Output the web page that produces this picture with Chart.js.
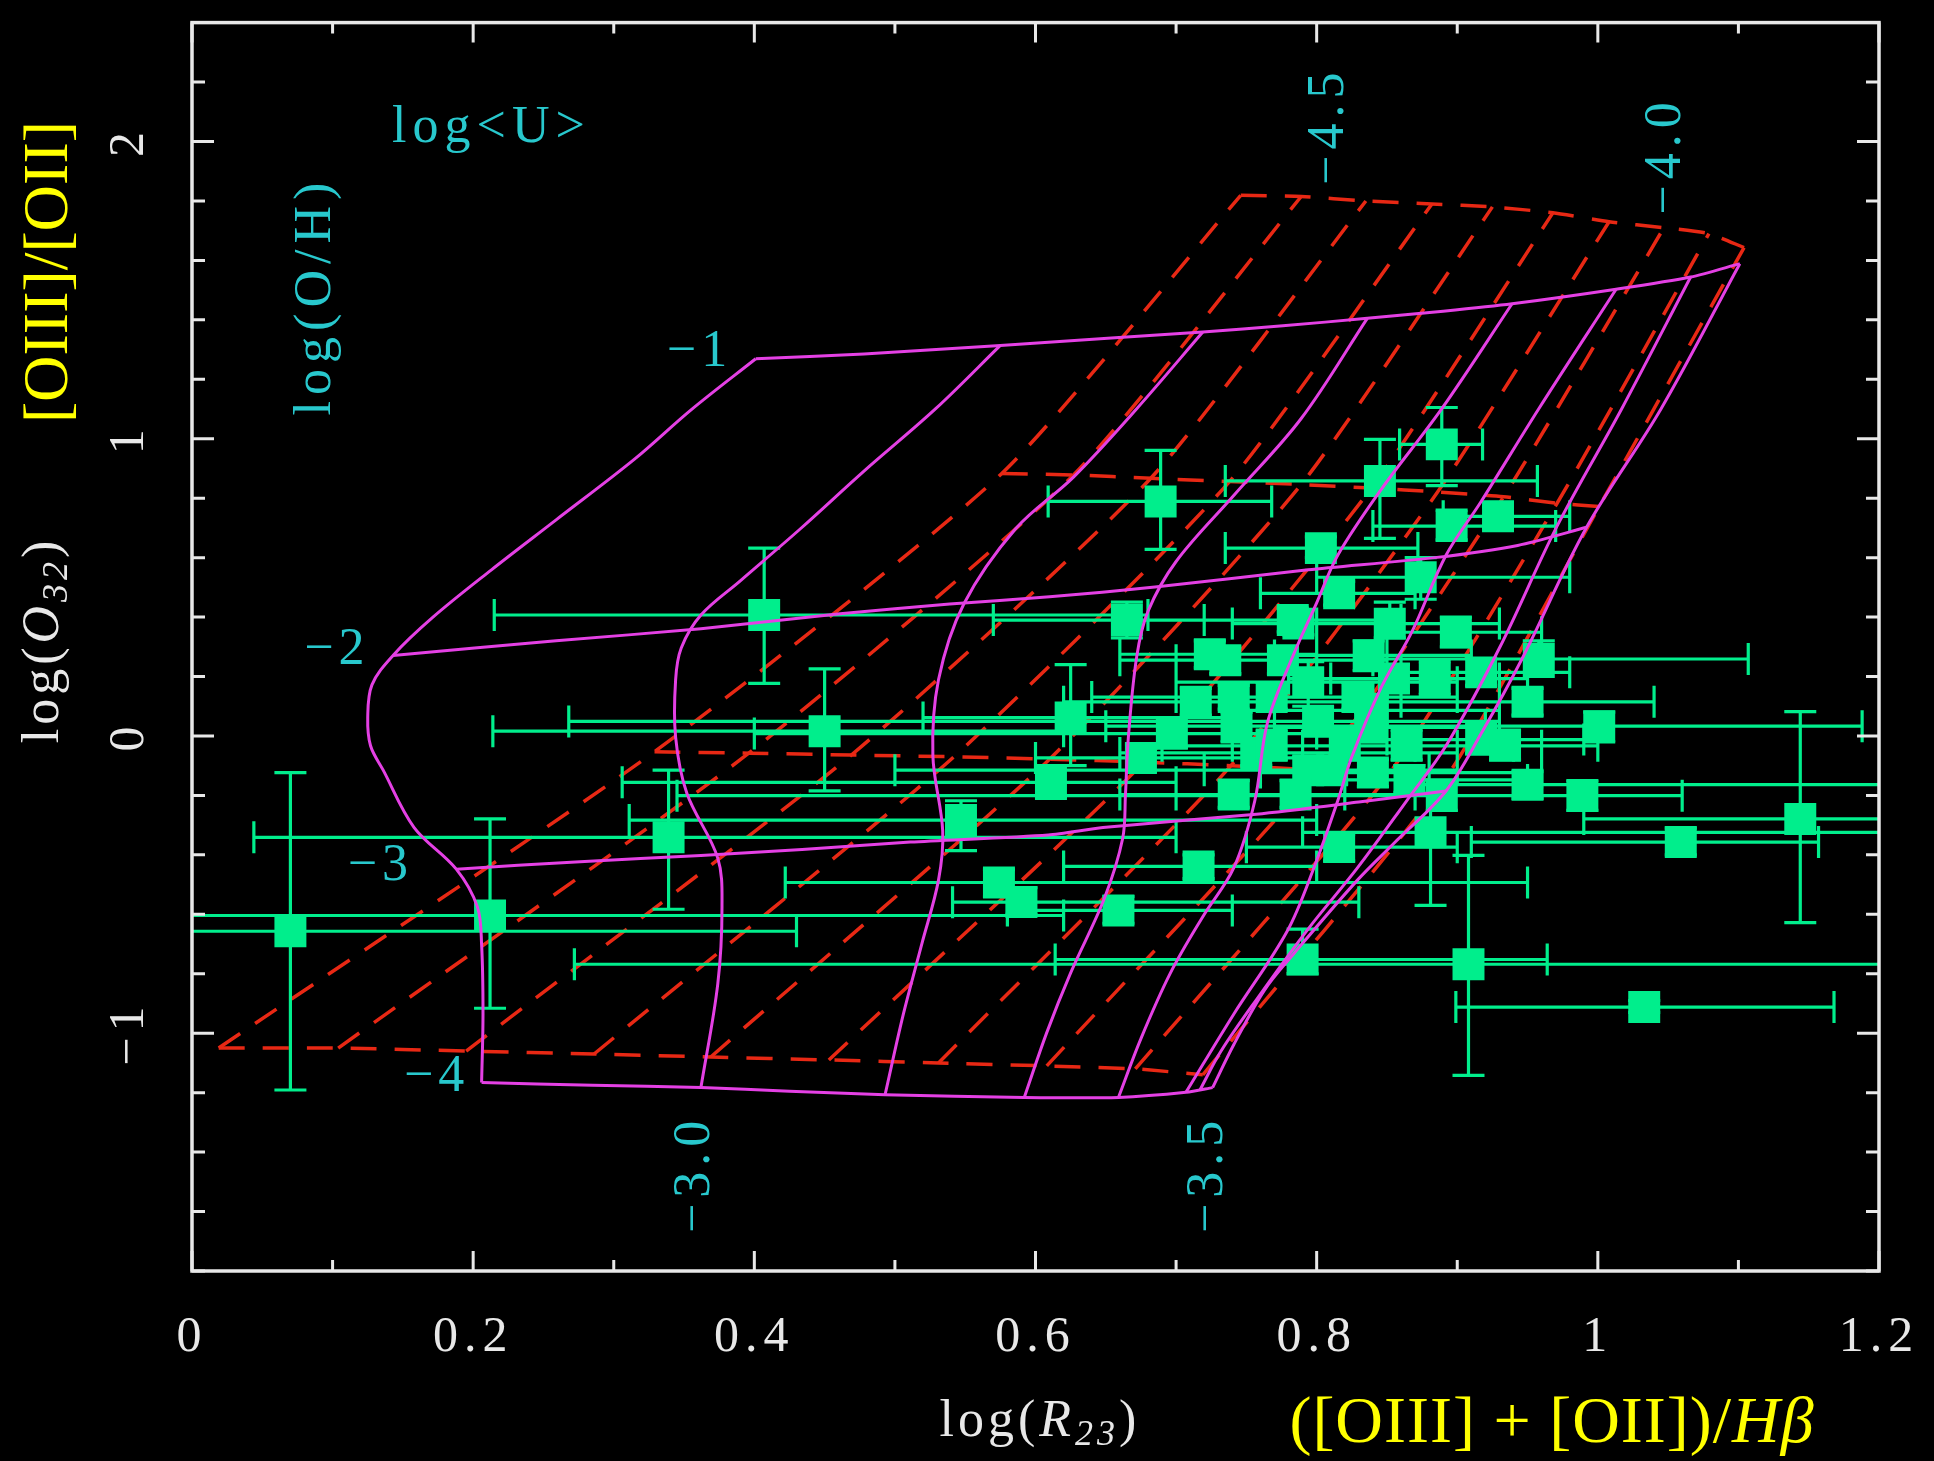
<html><head>
<meta charset="utf-8">
<title>O32 vs R23</title>
<script src="https://cdn.jsdelivr.net/npm/chart.js"></script>
<style>
body { margin: 0; background: #000; }
canvas { display: block; }
</style>
</head>
<body>
<canvas id="diagram" width="1934" height="1461"></canvas>
<script>
// axis ticks
const xMajor = [0, 0.2, 0.4, 0.6, 0.8, 1, 1.2];
const xTickLabels = ['0', '0.2', '0.4', '0.6', '0.8', '1', '1.2'];
const xMinor = [0.1, 0.3, 0.5, 0.7, 0.9, 1.1];
const yMajor = [-1, 0, 1, 2];
const yTickLabels = ['\u22121', '0', '1', '2'];
const yMinor = [-1.8, -1.6, -1.4, -1.2, -0.8, -0.6, -0.4, -0.2, 0.2, 0.4, 0.6, 0.8, 1.2, 1.4, 1.6, 1.8, 2.2, 2.4];

// solid model grid: lines of constant log<U>
const magU1 = [[0.401,1.269],[0.478,1.285],[0.575,1.314],[0.654,1.339],[0.719,1.359],[0.776,1.380],[0.836,1.405],[0.890,1.429],[0.939,1.454],[1.013,1.503],[1.066,1.544],[1.101,1.589]];
const magU2 = [[0.143,0.271],[0.259,0.320],[0.362,0.361],[0.461,0.411],[0.539,0.444],[0.610,0.468],[0.685,0.501],[0.794,0.559],[0.884,0.600],[0.943,0.641],[0.992,0.702]];
const magU3 = [[0.188,-0.448],[0.276,-0.423],[0.362,-0.402],[0.434,-0.382],[0.511,-0.357],[0.609,-0.333],[0.648,-0.308],[0.757,-0.263],[0.830,-0.222],[0.892,-0.185]];
const magU4 = [[0.206,-1.166],[0.285,-1.175],[0.362,-1.183],[0.425,-1.195],[0.493,-1.207],[0.592,-1.216],[0.659,-1.216],[0.707,-1.199],[0.726,-1.183]];

// solid model grid: lines of constant log(O/H)
const magZ1 = [[0.401,1.269],[0.355,1.097],[0.315,0.932],[0.259,0.727],[0.213,0.559],[0.171,0.398],[0.143,0.271],[0.128,0.172],[0.125,0.062],[0.127,-0.033],[0.136,-0.115],[0.158,-0.308],[0.188,-0.448],[0.203,-0.575],[0.206,-0.702],[0.207,-0.936],[0.206,-1.166]];
const magZ2 = [[0.575,1.314],[0.529,1.101],[0.478,0.891],[0.433,0.698],[0.390,0.522],[0.362,0.407],[0.348,0.296],[0.344,0.189],[0.344,-0.004],[0.352,-0.193],[0.374,-0.411],[0.377,-0.575],[0.374,-0.834],[0.362,-1.183]];
const magZ3 = [[0.719,1.359],[0.672,1.101],[0.627,0.871],[0.586,0.698],[0.549,0.444],[0.531,0.189],[0.527,-0.066],[0.534,-0.320],[0.531,-0.485],[0.519,-0.702],[0.506,-0.936],[0.493,-1.207]];
const magZ4 = [[0.836,1.405],[0.789,1.068],[0.741,0.809],[0.700,0.587],[0.680,0.419],[0.672,0.267],[0.666,-0.008],[0.664,-0.197],[0.662,-0.345],[0.649,-0.546],[0.625,-0.797],[0.608,-0.998],[0.592,-1.216]];
const magZ5 = [[0.939,1.454],[0.889,1.101],[0.846,0.830],[0.815,0.608],[0.800,0.448],[0.784,0.279],[0.765,0.045],[0.756,-0.218],[0.741,-0.444],[0.719,-0.608],[0.696,-0.797],[0.675,-1.018],[0.659,-1.216]];
const magZ6 = [[1.013,1.503],[0.958,1.101],[0.917,0.789],[0.892,0.608],[0.868,0.353],[0.846,0.164],[0.825,-0.070],[0.815,-0.218],[0.798,-0.444],[0.779,-0.657],[0.741,-0.936],[0.707,-1.199]];
const magZ7 = [[1.066,1.544],[1.017,1.101],[0.971,0.706],[0.930,0.296],[0.892,-0.033],[0.864,-0.218],[0.829,-0.444],[0.794,-0.649],[0.759,-0.875],[0.732,-1.060],[0.717,-1.191]];
const magZ8 = [[1.101,1.589],[1.045,1.101],[0.992,0.702],[0.946,0.259],[0.917,0.008],[0.892,-0.185],[0.855,-0.361],[0.829,-0.485],[0.784,-0.731],[0.763,-0.854],[0.741,-1.039],[0.726,-1.183]];

// dashed model grid, rows = log<U> from low to high, columns = metallicity
const redNodesX = [
    [0.019, 0.104, 0.195, 0.286, 0.369, 0.453, 0.531, 0.608, 0.671, 0.719],
    [0.329, 0.396, 0.469, 0.542, 0.610, 0.677, 0.739, 0.801, 0.851, 0.890],
    [0.576, 0.627, 0.682, 0.738, 0.789, 0.839, 0.886, 0.933, 0.971, 1.001],
    [0.746, 0.789, 0.835, 0.882, 0.925, 0.968, 1.008, 1.047, 1.079, 1.104]
];
const redNodesY = [
    [-1.05, -1.05, -1.06, -1.07, -1.08, -1.09, -1.10, -1.11, -1.12, -1.14],
    [-0.053, -0.058, -0.064, -0.070, -0.078, -0.088, -0.100, -0.115, -0.130, -0.155],
    [0.883, 0.878, 0.867, 0.856, 0.846, 0.834, 0.821, 0.805, 0.783, 0.772],
    [1.819, 1.815, 1.800, 1.790, 1.780, 1.760, 1.730, 1.710, 1.690, 1.643]
];

// observed galaxies: log(R23), log(O32) and error bar ends
const ptX   = [0.070, 0.212, 0.339, 0.407, 0.450, 0.547, 0.574, 0.590, 0.659, 0.716, 0.665, 0.625, 0.611, 0.675, 0.714, 0.743, 0.757, 0.787, 0.794, 0.801, 0.816, 0.837, 0.852, 0.840, 0.840, 0.874, 0.866, 0.899, 0.884, 0.889, 0.881, 0.950, 0.958, 0.950, 0.989, 1.001, 1.059, 1.144, 0.908, 0.790, 1.033, 0.929, 0.889, 0.845, 0.689, 0.803, 0.896, 0.735, 0.783, 0.768, 0.820, 0.917, 0.794, 0.816,
               0.776, 0.741, 0.768, 0.829, 0.855, 0.811, 0.785, 0.838, 0.741, 0.697, 0.917, 0.934, 0.724, 0.864];
const ptY   = [-0.657, -0.604, -0.341, 0.407, 0.016, -0.283, -0.493, -0.559, -0.587, -0.439, 0.390, 0.062, -0.156, -0.074, 0.115, 0.033, -0.057, 0.378, 0.181, 0.049, 0.480, 0.271, 0.378, 0.086, -0.123, 0.534, -0.148, 0.349, 0.193, -0.201, -0.324, 0.115, 0.259, -0.164, -0.201, 0.033, -0.357, -0.279, -0.768, -0.752, -0.912, 0.739, 0.981, 0.858, 0.789, 0.632, 0.706, 0.255, 0.390, 0.131, -0.033, -0.012, -0.115, -0.374,
               0.255, 0.131, -0.033, 0.131, 0.193, -0.115, -0.197, 0.029, -0.197, 0.008, 0.214, -0.033, 0.275, -0.033];
const ptXlo = [-0.05, -0.05, 0.044, 0.215, 0.214, 0.311, 0.422, 0.541, 0.580, 0.620, 0.570, 0.520, 0.306, 0.600, 0.620, 0.650, 0.660, 0.740, 0.700, 0.268, 0.760, 0.770, 0.800, 0.750, 0.760, 0.800, 0.790, 0.850, 0.810, 0.345, 0.790, 0.860, 0.840, 0.870, 0.890, 0.920, 0.910, 0.990, 0.272, 0.614, 0.899, 0.890, 0.859, 0.735, 0.609, 0.735, 0.840, 0.660, 0.720, 0.700, 0.740, 0.850, 0.720, 0.750,
               0.700, 0.640, 0.690, 0.760, 0.780, 0.500, 0.700, 0.770, 0.660, 0.400, 0.860, 0.870, 0.660, 0.790];
const ptXhi = [0.430, 0.620, 0.700, 0.680, 0.620, 0.800, 0.950, 0.830, 0.740, 0.800, 0.780, 0.740, 0.700, 0.810, 0.860, 0.930, 0.900, 0.860, 0.900, 0.930, 0.870, 0.910, 0.930, 0.930, 0.960, 0.980, 0.950, 0.960, 0.950, 0.980, 1.250, 1.040, 1.107, 1.250, 1.060, 1.188, 1.157, 1.250, 1.250, 0.964, 1.168, 0.980, 0.918, 0.957, 0.768, 0.872, 0.970, 0.840, 0.860, 0.840, 0.900, 0.990, 0.880, 0.900,
               0.850, 0.830, 0.960, 0.900, 0.930, 0.900, 0.870, 0.920, 0.820, 0.800, 0.980, 1.000, 0.800, 0.940];
const ptYlo = [-1.191, -0.916, -0.583, 0.177, -0.185, -0.386, -0.540, -0.600, -0.630, -0.480, 0.330, -0.100, -0.210, -0.120, 0.070, -0.020, -0.100, 0.340, 0.100, 0.000, 0.440, 0.220, 0.330, 0.030, -0.170, 0.460, -0.190, 0.300, 0.140, -0.250, -0.570, 0.070, 0.200, -0.210, -0.250, -0.020, -0.400, -0.628, -1.142, -0.800, -0.930, 0.700, 0.842, 0.665, 0.628, 0.600, 0.660, 0.210, 0.350, 0.090, -0.080, -0.060, -0.160, -0.420,
               0.210, 0.090, -0.080, 0.090, 0.150, -0.160, -0.240, -0.020, -0.240, -0.040, 0.170, -0.080, 0.230, -0.080];
const ptYhi = [-0.123, -0.279, -0.115, 0.632, 0.226, -0.218, -0.450, -0.510, -0.540, -0.400, 0.450, 0.240, -0.100, -0.030, 0.160, 0.080, -0.010, 0.420, 0.250, 0.100, 0.520, 0.320, 0.450, 0.140, -0.080, 0.600, -0.100, 0.400, 0.250, -0.150, -0.200, 0.160, 0.320, -0.120, -0.150, 0.080, -0.310, 0.082, -0.402, -0.650, -0.890, 0.770, 1.105, 0.998, 0.961, 0.670, 0.760, 0.300, 0.430, 0.180, 0.020, 0.040, -0.070, -0.330,
               0.300, 0.170, 0.020, 0.180, 0.240, -0.070, -0.150, 0.080, -0.150, 0.050, 0.260, 0.020, 0.320, 0.020];

// grid labels
const uLabels = ['\u22121', '\u22122', '\u22123', '\u22124'];
const uLabelX = [0.361, 0.103, 0.134, 0.174];
const uLabelY = [1.290, 0.287, -0.440, -1.147];
const ohLabels = ['\u22123.0', '\u22123.5', '\u22124.5', '\u22124.0'];
const ohLabelX = [0.358, 0.723, 0.809, 1.049];
const ohLabelY = [-1.473, -1.473, 2.053, 1.953];

const GREEN = 'rgb(0,238,140)';
const MAGENTA = 'rgb(228,64,228)';
const RED = 'rgb(232,40,20)';
const CYAN = 'rgb(40,200,205)';
const WHITE = 'rgb(232,232,232)';
const YELLOW = 'rgb(255,255,0)';
const SERIF = '"Liberation Serif", "Times New Roman", serif';

function lineSet(pts, color, width, dash, tension, order) {
    return {
        data: pts.map(function (p) { return {x: p[0], y: p[1]}; }),
        showLine: true,
        pointRadius: 0,
        borderColor: color,
        borderWidth: width,
        borderDash: dash,
        tension: tension,
        fill: false,
        order: order
    };
}

var datasets = [];
// dashed grid, drawn underneath
for (var r = 0; r < redNodesX.length; r++) {
    var row = redNodesX[r].map(function (x, c) { return [x, redNodesY[r][c]]; });
    datasets.push(lineSet(row, RED, 3.5, [26, 18], 0.2, 3));
}
for (var c = 0; c < redNodesX[0].length; c++) {
    var col = redNodesX.map(function (rowX, rr) { return [rowX[c], redNodesY[rr][c]]; });
    datasets.push(lineSet(col, RED, 3.5, [26, 18], 0.2, 3));
}
// points
var pointsIndex = datasets.length;
datasets.push({
    data: ptX.map(function (x, i) { return {x: x, y: ptY[i]}; }),
    pointStyle: 'rect',
    pointRadius: 22.6,
    backgroundColor: GREEN,
    borderWidth: 0,
    order: 2
});
// solid grid on top
[magU1, magU2, magU3, magU4].forEach(function (pts) {
    datasets.push(lineSet(pts, MAGENTA, 3, [], 0.25, 1));
});
[magZ1, magZ2, magZ3, magZ4, magZ5, magZ6, magZ7, magZ8].forEach(function (pts) {
    datasets.push(lineSet(pts, MAGENTA, 3, [], 0.35, 1));
});

// text made of parts: [string, font, shift along the baseline normal]
function drawParts(ctx, parts, x, y, angle, spacing) {
    ctx.save();
    ctx.translate(x, y);
    ctx.rotate(angle);
    ctx.textBaseline = 'middle';
    ctx.textAlign = 'left';
    ctx.letterSpacing = spacing || '0px';
    var total = 0;
    parts.forEach(function (p) { ctx.font = p[1]; total += ctx.measureText(p[0]).width; });
    var cx = -total / 2;
    parts.forEach(function (p) {
        ctx.font = p[1];
        ctx.fillText(p[0], cx, p[2] || 0);
        cx += ctx.measureText(p[0]).width;
    });
    ctx.restore();
}

const decorations = {
    id: 'decorations',
    beforeDraw: function (chart) {
        var ctx = chart.ctx;
        ctx.save();
        ctx.fillStyle = '#000';
        ctx.fillRect(0, 0, chart.width, chart.height);
        ctx.restore();
    },
    beforeDatasetDraw: function (chart, args) {
        if (args.index !== pointsIndex) {
            return;
        }
        var ctx = chart.ctx, xs = chart.scales.x, ys = chart.scales.y, a = chart.chartArea;
        var cap = 16;
        ctx.save();
        ctx.beginPath();
        ctx.rect(a.left, a.top, a.right - a.left, a.bottom - a.top);
        ctx.clip();
        ctx.strokeStyle = GREEN;
        ctx.lineWidth = 3.2;
        ctx.beginPath();
        for (var i = 0; i < ptX.length; i++) {
            var px = xs.getPixelForValue(ptX[i]);
            var py = ys.getPixelForValue(ptY[i]);
            var x0 = xs.getPixelForValue(ptXlo[i]), x1 = xs.getPixelForValue(ptXhi[i]);
            var y0 = ys.getPixelForValue(ptYlo[i]), y1 = ys.getPixelForValue(ptYhi[i]);
            ctx.moveTo(x0, py); ctx.lineTo(x1, py);
            ctx.moveTo(x0, py - cap); ctx.lineTo(x0, py + cap);
            ctx.moveTo(x1, py - cap); ctx.lineTo(x1, py + cap);
            ctx.moveTo(px, y0); ctx.lineTo(px, y1);
            ctx.moveTo(px - cap, y0); ctx.lineTo(px + cap, y0);
            ctx.moveTo(px - cap, y1); ctx.lineTo(px + cap, y1);
        }
        ctx.stroke();
        ctx.restore();
    },
    afterDraw: function (chart) {
        var ctx = chart.ctx, xs = chart.scales.x, ys = chart.scales.y, a = chart.chartArea;
        ctx.save();
        // frame and inward ticks on all four sides
        ctx.strokeStyle = WHITE;
        ctx.lineWidth = 3.5;
        ctx.strokeRect(a.left, a.top, a.right - a.left, a.bottom - a.top);
        ctx.lineWidth = 3;
        ctx.beginPath();
        function xTick(v, len) {
            var p = xs.getPixelForValue(v);
            ctx.moveTo(p, a.bottom); ctx.lineTo(p, a.bottom - len);
            ctx.moveTo(p, a.top); ctx.lineTo(p, a.top + len);
        }
        function yTick(v, len) {
            var p = ys.getPixelForValue(v);
            ctx.moveTo(a.left, p); ctx.lineTo(a.left + len, p);
            ctx.moveTo(a.right, p); ctx.lineTo(a.right - len, p);
        }
        xMajor.forEach(function (v) { xTick(v, 20); });
        xMinor.forEach(function (v) { xTick(v, 11); });
        yMajor.forEach(function (v) { yTick(v, 22); });
        yMinor.forEach(function (v) { yTick(v, 13); });
        ctx.stroke();

        // tick labels
        ctx.fillStyle = WHITE;
        var tickFont = '50px ' + SERIF;
        xMajor.forEach(function (v, i) {
            drawParts(ctx, [[xTickLabels[i], tickFont]], xs.getPixelForValue(v), 1338, 0, '6px');
        });
        yMajor.forEach(function (v, i) {
            drawParts(ctx, [[yTickLabels[i], tickFont]], 130, ys.getPixelForValue(v), -Math.PI / 2, '6px');
        });

        // axis titles
        var f52 = '52px ' + SERIF, i52 = 'italic 52px ' + SERIF, i36 = 'italic 36px ' + SERIF;
        drawParts(ctx, [['log(', f52], ['O', i52], ['32', i36, 14], [')', f52]], 44, 640, -Math.PI / 2, '4px');
        drawParts(ctx, [['log(', f52], ['R', i52], ['23', i36, 14], [')', f52]], 1040, 1422, 0, '4px');
        ctx.fillStyle = YELLOW;
        var y64 = '64px ' + SERIF, yi64 = 'italic 64px ' + SERIF;
        drawParts(ctx, [['[OIII]/[OII]', y64]], 50, 272, -Math.PI / 2);
        drawParts(ctx, [['([OIII] + [OII])/', '66px ' + SERIF], ['H\u03B2', 'italic 66px ' + SERIF]], 1552, 1425, 0, '1px');

        // grid labels
        ctx.fillStyle = CYAN;
        drawParts(ctx, [['log<U>', f52]], xs.getPixelForValue(0.213), ys.getPixelForValue(2.043), 0, '6px');
        drawParts(ctx, [['log(O/H)', f52]], xs.getPixelForValue(0.0884), ys.getPixelForValue(1.48), -Math.PI / 2, '6px');
        uLabels.forEach(function (t, i) {
            drawParts(ctx, [[t, f52]], xs.getPixelForValue(uLabelX[i]), ys.getPixelForValue(uLabelY[i]), 0, '5px');
        });
        ohLabels.forEach(function (t, i) {
            drawParts(ctx, [[t, f52]], xs.getPixelForValue(ohLabelX[i]), ys.getPixelForValue(ohLabelY[i]), -Math.PI / 2, '6px');
        });
        ctx.restore();
    }
};

new Chart(document.getElementById('diagram'), {
    type: 'scatter',
    data: {datasets: datasets},
    options: {
        responsive: false,
        animation: false,
        events: [],
        layout: {padding: {left: 192, top: 11, right: 55, bottom: 190}},
        scales: {
            x: {type: 'linear', min: 0, max: 1.2, display: false},
            y: {type: 'linear', min: -1.8, max: 2.4, display: false}
        },
        plugins: {
            legend: {display: false},
            tooltip: {enabled: false}
        }
    },
    plugins: [decorations]
});
</script>
</body></html>
